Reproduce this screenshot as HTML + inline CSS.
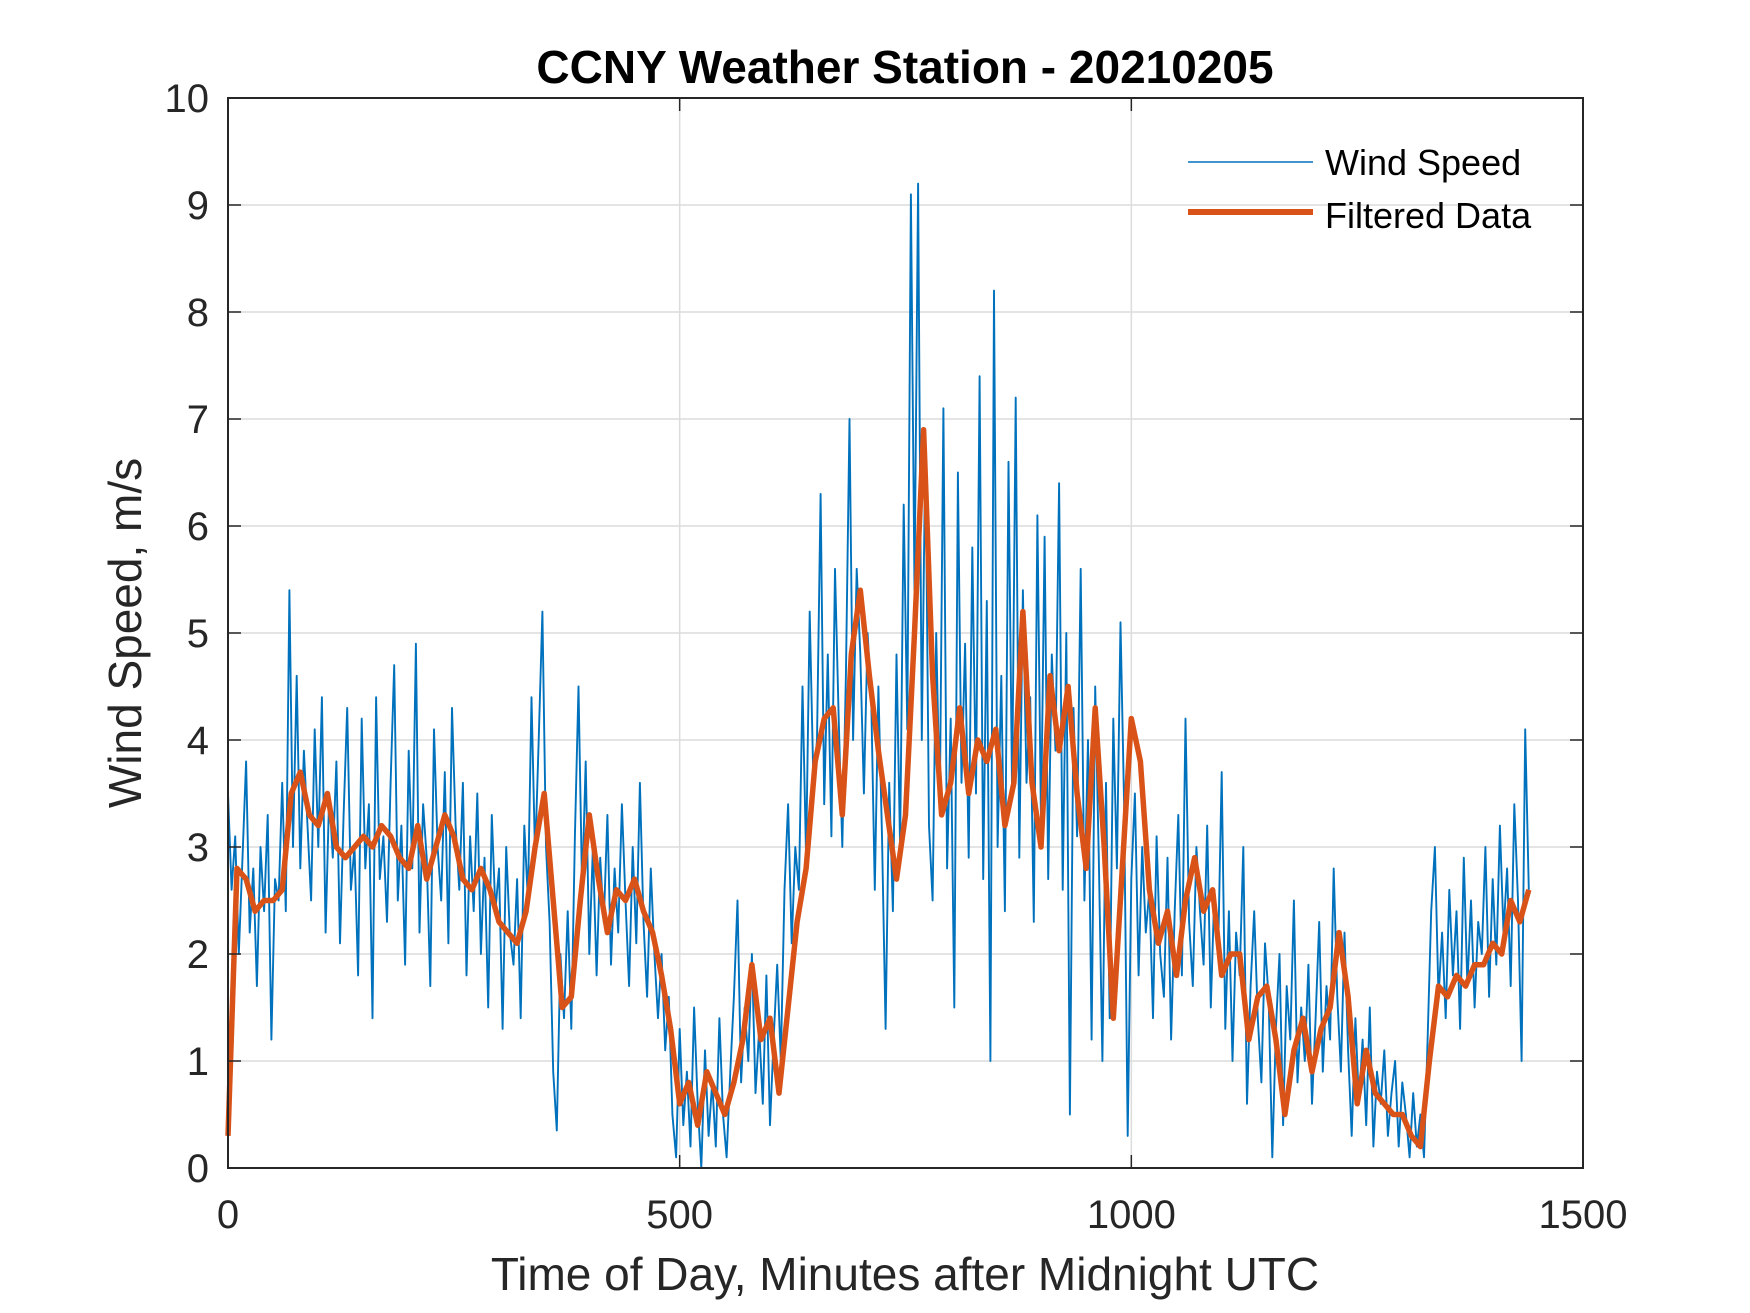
<!DOCTYPE html>
<html><head><meta charset="utf-8"><style>
html,body{margin:0;padding:0;background:#fff;}
svg{display:block;font-family:"Liberation Sans",Arial,sans-serif;}
</style></head><body>
<svg id="chart" width="1750" height="1313" viewBox="0 0 1750 1313" xmlns="http://www.w3.org/2000/svg">
<rect width="1750" height="1313" fill="#fff"/>
<text x="905" y="83" text-anchor="middle" font-size="46" font-weight="bold" fill="#000">CCNY Weather Station - 20210205</text>
<text x="905" y="1290" text-anchor="middle" font-size="46" fill="#262626">Time of Day, Minutes after Midnight UTC</text>
<text transform="translate(141,633) rotate(-90)" text-anchor="middle" font-size="46" fill="#262626">Wind Speed, m/s</text>
<g id="grid"></g>
<g id="series"></g>
<g id="axes"></g>
<g id="legend">
<line x1="1188" y1="162" x2="1313" y2="162" stroke="#0072BD" stroke-width="1.6"/>
<text x="1325" y="175" font-size="36" fill="#000">Wind Speed</text>
<line x1="1188" y1="212" x2="1313" y2="212" stroke="#D95319" stroke-width="6"/>
<text x="1325" y="228" font-size="36" fill="#000">Filtered Data</text>
</g>
</svg>
<script>
const xTicks=[0,500,1000,1500];
const yTicks=[0,1,2,3,4,5,6,7,8,9,10];
const rawStep=4;
const rawValues=[
3.5,2.6,3.1,2.0,2.9,3.8,2.2,2.8,1.7,3.0,2.4,3.3,1.2,2.7,2.5,
3.6,2.4,5.4,3.0,4.6,2.8,3.9,3.2,2.5,4.1,3.0,4.4,2.2,3.5,2.9,
3.8,2.1,3.3,4.3,2.6,3.0,1.8,4.2,2.8,3.4,1.4,4.4,2.7,3.1,2.3,
3.6,4.7,2.5,3.2,1.9,3.9,2.8,4.9,2.2,3.4,2.9,1.7,4.1,3.0,2.5,
3.7,2.1,4.3,3.2,2.6,3.6,1.8,3.1,2.4,3.5,2.0,2.9,1.5,3.3,2.4,
2.8,1.3,3.0,2.2,1.9,2.7,1.4,3.2,2.5,4.4,2.9,4.0,5.2,3.0,2.3,
0.9,0.35,2.0,1.4,2.4,1.3,3.1,4.5,2.6,3.8,2.0,3.0,1.8,2.9,2.3,
3.3,1.9,2.8,2.2,3.4,2.5,1.7,3.0,2.1,3.6,2.3,1.6,2.8,2.0,1.4,
2.0,1.1,1.6,0.5,0.1,1.3,0.4,0.9,0.2,1.5,0.6,0.0,1.1,0.3,0.8,
0.2,1.4,0.5,0.1,0.9,1.6,2.5,0.8,1.5,1.0,2.0,0.7,1.3,0.6,1.8,
0.4,1.2,1.9,1.0,2.6,3.4,2.1,3.0,2.6,4.5,2.9,5.2,3.6,4.0,6.3,
3.4,4.8,3.1,5.6,4.2,3.0,4.6,7.0,4.0,5.6,4.8,3.5,5.0,4.4,2.6,
4.5,3.1,1.3,3.6,2.4,4.8,3.0,6.2,4.1,9.1,5.4,9.2,4.0,6.8,3.2,
2.5,5.0,3.4,7.1,2.8,4.2,1.5,6.5,3.6,4.9,2.9,5.8,3.5,7.4,2.7,
5.3,1.0,8.2,3.0,4.6,2.4,6.6,3.5,7.2,2.9,5.4,3.6,4.4,2.3,6.1,
3.2,5.9,2.7,4.8,3.9,6.4,2.6,5.0,0.5,4.3,3.1,5.6,2.5,4.0,1.2,
4.5,2.9,1.0,3.6,1.4,4.2,2.8,5.1,3.4,0.3,2.7,3.5,1.8,3.0,2.2,
2.6,1.4,3.1,2.0,1.6,2.9,1.2,2.4,3.3,1.8,4.2,2.3,1.7,3.0,2.4,
1.9,3.2,1.5,2.6,2.0,3.7,1.3,2.4,1.0,2.2,1.8,3.0,0.6,1.7,2.4,
1.4,0.8,2.1,1.6,0.1,1.3,2.0,0.4,1.7,1.2,2.5,0.8,1.5,1.0,1.9,
0.6,1.4,2.3,0.9,1.7,1.2,2.8,1.6,0.9,2.2,1.1,0.3,1.4,0.6,1.2,
0.4,1.5,0.2,0.9,0.6,1.1,0.3,0.7,1.0,0.2,0.8,0.5,0.1,0.7,0.2,
0.5,0.1,1.2,2.4,3.0,1.6,2.2,1.4,2.6,1.8,2.4,1.3,2.9,1.7,2.5,
1.5,2.3,2.0,3.0,1.6,2.7,1.9,3.2,2.2,2.8,1.7,3.4,2.5,1.0,4.1,
2.6];
const filtStep=10;
const filteredValues=[
0.3,2.8,2.7,2.4,2.5,2.5,2.6,3.5,3.7,3.3,3.2,3.5,3.0,2.9,3.0,3.1,3.0,3.2,3.1,2.9,
2.8,3.2,2.7,3.0,3.3,3.1,2.7,2.6,2.8,2.6,2.3,2.2,2.1,2.4,3.0,3.5,2.5,1.5,1.6,2.5,
3.3,2.7,2.2,2.6,2.5,2.7,2.4,2.2,1.8,1.3,0.6,0.8,0.4,0.9,0.7,0.5,0.8,1.2,1.9,1.2,
1.4,0.7,1.5,2.3,2.8,3.8,4.2,4.3,3.3,4.8,5.4,4.6,3.9,3.3,2.7,3.3,5.0,6.9,4.6,3.3,
3.6,4.3,3.5,4.0,3.8,4.1,3.2,3.6,5.2,3.6,3.0,4.6,3.9,4.5,3.5,2.8,4.3,3.0,1.4,2.8,
4.2,3.8,2.6,2.1,2.4,1.8,2.5,2.9,2.4,2.6,1.8,2.0,2.0,1.2,1.6,1.7,1.2,0.5,1.1,1.4,
0.9,1.3,1.5,2.2,1.6,0.6,1.1,0.7,0.6,0.5,0.5,0.3,0.2,1.0,1.7,1.6,1.8,1.7,1.9,1.9,
2.1,2.0,2.5,2.3,2.6];
const L=228,R=1583,T=98,B=1168;
const sx=v=>L+(v-0)/(1500-0)*(R-L);
const sy=v=>B-(v-0)/(10-0)*(B-T);
const NS="http://www.w3.org/2000/svg";
function mk(tag,attrs,parent){const e=document.createElementNS(NS,tag);for(const k in attrs)e.setAttribute(k,attrs[k]);parent.appendChild(e);return e;}
const grid=document.getElementById('grid'),axes=document.getElementById('axes'),series=document.getElementById('series');
xTicks.forEach(t=>{
  const g=mk('line',{x1:sx(t),x2:sx(t),y1:T,y2:B,stroke:'#dcdcdc','stroke-width':1.5},grid);
  
  
  const tk=mk('line',{x1:sx(t),x2:sx(t),y1:B,y2:B-13,stroke:'#262626','stroke-width':1.5},axes);
  
  
  const tk2=mk('line',{x1:sx(t),x2:sx(t),y1:T,y2:T+13,stroke:'#262626','stroke-width':1.5},axes);
  
  
  const lb=mk('text',{x:sx(t),y:1228,'text-anchor':'middle','font-size':40,fill:'#262626'},axes);
  
  
  lb.textContent=t;
});
yTicks.forEach(t=>{
  const g=mk('line',{x1:L,x2:R,y1:sy(t),y2:sy(t),stroke:'#dcdcdc','stroke-width':1.5},grid);
  
  
  const tk=mk('line',{x1:L,x2:L+13,y1:sy(t),y2:sy(t),stroke:'#262626','stroke-width':1.5},axes);
  
  
  const tk2=mk('line',{x1:R,x2:R-13,y1:sy(t),y2:sy(t),stroke:'#262626','stroke-width':1.5},axes);
  
  
  const lb=mk('text',{x:209,y:sy(t)+14,'text-anchor':'end','font-size':40,fill:'#262626'},axes);
  
  
  lb.textContent=t;
});
const frame=mk('rect',{x:L,y:T,width:R-L,height:B-T,fill:'none',stroke:'#262626','stroke-width':2},axes);


const rawPts=rawValues.map((v,i)=>sx(i*rawStep).toFixed(1)+','+sy(v).toFixed(1)).join(' ');
const raw=mk('polyline',{points:rawPts,fill:'none',stroke:'#0072BD','stroke-width':1.9,'stroke-linejoin':'round'},series);


const fPts=filteredValues.map((v,i)=>sx(i*filtStep).toFixed(1)+','+sy(v).toFixed(1)).join(' ');
const filt=mk('polyline',{points:fPts,fill:'none',stroke:'#D95319','stroke-width':5.5,'stroke-linejoin':'round'},series);


</script>
</body></html>
